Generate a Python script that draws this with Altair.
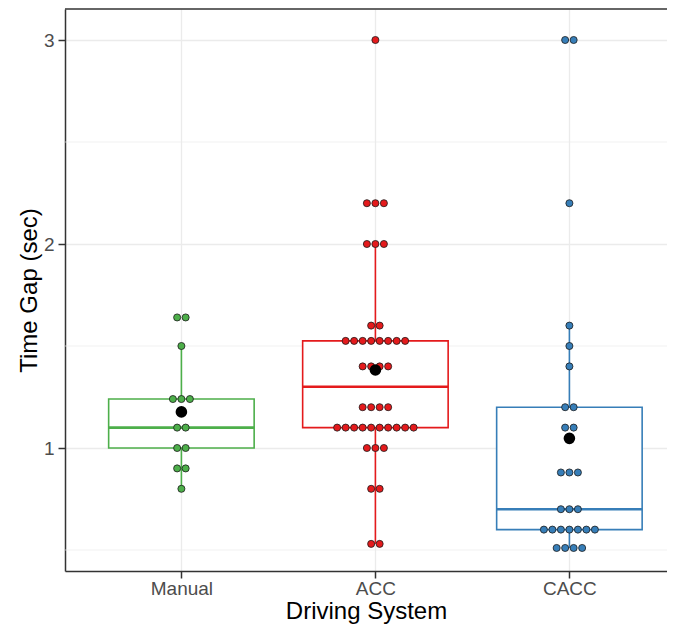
import altair as alt
import pandas as pd
import numpy as np

groups = ["Manual", "ACC", "CACC"]
colors = ["#4DAF4A", "#E41A1C", "#377EB8"]

manual = [1.64, 1.64, 1.5, 1.24, 1.24, 1.24, 1.1, 1.1, 1.0, 1.0, 0.9, 0.9, 0.8]
acc = [3.0, 2.2, 2.2, 2.2, 2.0, 2.0, 2.0, 1.6, 1.6,
       1.525, 1.525, 1.525, 1.525, 1.525, 1.525, 1.525, 1.525,
       1.4, 1.4, 1.4, 1.4, 1.2, 1.2, 1.2, 1.2,
       1.1, 1.1, 1.1, 1.1, 1.1, 1.1, 1.1, 1.1, 1.1, 1.1,
       1.0, 1.0, 1.0, 0.8, 0.8, 0.53, 0.53]
cacc = [3.0, 3.0, 2.2, 1.6, 1.5, 1.4, 1.2, 1.2, 1.1, 1.1,
        0.88, 0.88, 0.88, 0.7, 0.7, 0.7,
        0.6, 0.6, 0.6, 0.6, 0.6, 0.6, 0.6, 0.51, 0.51, 0.51, 0.51]

y_major = [1, 2, 3]
y_minor = [0.5, 1.5, 2.5]
x_ticks = [1, 2, 3]

W, H = 602, 562
PX = 194.0             # pixels per x unit
XDOM = [0.4, 0.4 + W / PX]
YTOP = 3.152
YDOM = [YTOP - H / 204.0, YTOP]
DOT = 8.5 / PX         # dot diameter in x units
BOXW = 0.375

series = {"Manual": manual, "ACC": acc, "CACC": cacc}

rows = []
stats = []
for gi, g in enumerate(groups, start=1):
    vals = np.array(series[g], dtype=float)
    uniq, counts = np.unique(vals, return_counts=True)
    for u, c in zip(uniq, counts):
        for i in range(c):
            rows.append({"group": g, "value": u, "x": gi + (i - (c - 1) / 2) * DOT})
    s = pd.Series(vals)
    q1, med, q3 = s.quantile(0.25), s.quantile(0.5), s.quantile(0.75)
    iqr = q3 - q1
    lo = s[s >= q1 - 1.5 * iqr].min()
    hi = s[s <= q3 + 1.5 * iqr].max()
    stats.append({"group": g, "gx": gi, "xl": gi - BOXW, "xr": gi + BOXW,
                  "q1": q1, "med": med, "q3": q3, "lo": lo, "hi": hi, "mean": s.mean()})

pts = pd.DataFrame(rows)
st = pd.DataFrame(stats)

FONT = "Liberation Sans"
xscale = alt.Scale(domain=XDOM, nice=False, zero=False)
yscale = alt.Scale(domain=YDOM, nice=False, zero=False)
cscale = alt.Scale(domain=groups, range=colors)

xaxis = alt.Axis(values=x_ticks, labelExpr="['', 'Manual', 'ACC', 'CACC'][datum.value]",
                 title="Driving System", grid=True, gridColor="#EBEBEB", gridWidth=1.3,
                 tickSize=7, tickWidth=1.5, tickColor="#333333",
                 domainColor="#333333", domainWidth=1.5,
                 labelFont=FONT, labelFontSize=19, labelColor="#4D4D4D", labelPadding=1,
                 titleFont=FONT, titleFontSize=24, titleColor="black",
                 titleFontWeight="normal", titlePadding=1)
yaxis = alt.Axis(values=y_major, format="d", title="Time Gap (sec)", grid=True,
                 gridColor="#EBEBEB", gridWidth=1.3,
                 tickSize=7, tickWidth=1.5, tickColor="#333333",
                 domainColor="#333333", domainWidth=1.5,
                 labelFont=FONT, labelFontSize=19, labelColor="#4D4D4D", labelPadding=4,
                 titleFont=FONT, titleFontSize=24, titleColor="black",
                 titleFontWeight="normal", titlePadding=2)

XQ = lambda f: alt.X(f, scale=xscale, axis=xaxis, title="Driving System")
YQ = lambda f: alt.Y(f, scale=yscale, axis=yaxis, title="Time Gap (sec)")
COL = alt.Color("group:N", scale=cscale, legend=None)

base_st = alt.Chart(st)

minor = alt.Chart(pd.DataFrame({"v": y_minor})).mark_rule(
    color="#EBEBEB", strokeWidth=0.7).encode(
    y=YQ("v:Q"), x=alt.value(0), x2=alt.value(W))

whisk_hi = base_st.mark_rule(strokeWidth=1.6).encode(
    x=XQ("gx:Q"), y=YQ("q3:Q"), y2="hi:Q", color=COL)
whisk_lo = base_st.mark_rule(strokeWidth=1.6).encode(
    x=XQ("gx:Q"), y=YQ("q1:Q"), y2="lo:Q", color=COL)

box = base_st.mark_rect(fill="white", strokeWidth=1.6).encode(
    x=XQ("xl:Q"), x2="xr:Q", y=YQ("q1:Q"), y2="q3:Q",
    stroke=alt.Stroke("group:N", scale=cscale, legend=None))

median = base_st.mark_rule(strokeWidth=2.6).encode(
    x=XQ("xl:Q"), x2="xr:Q", y=YQ("med:Q"), color=COL)

dots = alt.Chart(pts).mark_circle(size=50, opacity=1, stroke="#1a1a1a", strokeWidth=0.8).encode(
    x=XQ("x:Q"), y=YQ("value:Q"), color=COL)

means = base_st.mark_circle(size=135, opacity=1, color="black").encode(
    x=XQ("gx:Q"), y=YQ("mean:Q"))

top = alt.Chart(pd.DataFrame({"a": [0]})).mark_rule(color="#333333", strokeWidth=1.5).encode(
    x=alt.value(0), x2=alt.value(W), y=alt.value(0))

chart = alt.layer(minor, whisk_hi, whisk_lo, box, median, dots, means, top).properties(
    width=W, height=H,
    autosize=alt.AutoSizeParams(type="none"),
    padding={"left": 57, "top": 1, "right": 0, "bottom": 54},
    background="white",
    view=alt.ViewBackground(stroke="transparent", strokeWidth=0),
).configure_view(stroke="transparent", strokeWidth=0, strokeOpacity=0)

chart.save("out.html", embed_options={"renderer": "svg", "actions": False})
